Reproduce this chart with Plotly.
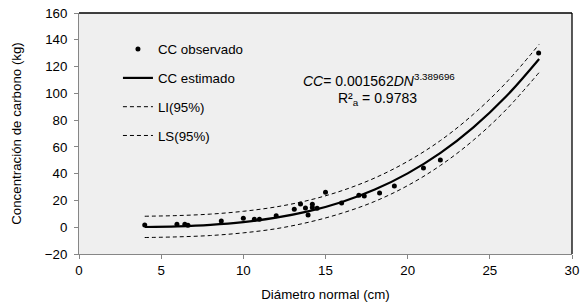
import plotly.graph_objects as go

# Observed data (diámetro normal cm, carbono kg)
dn_obs = [4.0, 5.96, 6.44, 6.63, 8.66, 10.0, 10.67, 10.98, 12.0, 13.1, 13.48, 13.78, 13.94,
          14.2, 14.2, 14.49, 15.0, 15.98, 17.03, 17.36, 18.29, 19.19, 20.96, 21.99, 27.97]
cc_obs = [1.7, 2.2, 2.2, 1.5, 4.7, 6.7, 6.0, 6.0, 8.5, 13.4, 17.4, 14.4, 9.2,
          17.2, 14.7, 14.2, 26.1, 18.1, 23.9, 23.4, 25.6, 30.8, 44.3, 50.2, 130.1]

# Fitted curve and 95% limits
dn_fit = [4, 6, 8, 10, 12, 14, 16, 18, 20, 22, 24, 26, 28]
cc_est = [0.17, 0.68, 1.80, 3.83, 7.11, 11.98, 18.85, 28.1, 40.2, 55.5, 74.6, 97.8, 125.7]
cc_ls = [8.2, 8.7, 9.8, 11.9, 15.2, 20.2, 27.3, 36.8, 49.2, 64.8, 84.4, 108.1, 136.6]
cc_li = [-7.7, -7.2, -6.2, -4.2, -1.1, 3.8, 10.5, 19.3, 31.1, 46.2, 65.0, 87.9, 115.6]

x_ticks = [0, 5, 10, 15, 20, 25, 30]
y_ticks = [-20, 0, 20, 40, 60, 80, 100, 120, 140, 160]

FONT = "Liberation Sans, Arial, sans-serif"
FS = 13.3

fig = go.Figure()
fig.add_trace(go.Scatter(x=dn_obs, y=cc_obs, mode="markers", name="CC observado",
                         marker=dict(color="black", size=5), legendgroup="a"))
fig.add_trace(go.Scatter(x=dn_fit, y=cc_est, mode="lines", name="CC estimado",
                         line=dict(color="black", width=2.2, shape="spline"), legendgroup="b"))
fig.add_trace(go.Scatter(x=dn_fit, y=cc_li, mode="lines", name="LI(95%)",
                         line=dict(color="black", width=1, dash="4px,3px", shape="spline"), legendgroup="c"))
fig.add_trace(go.Scatter(x=dn_fit, y=cc_ls, mode="lines", name="LS(95%)",
                         line=dict(color="black", width=1, dash="4px,3px", shape="spline"), legendgroup="d"))

fig.update_layout(
    width=588, height=303,
    margin=dict(l=79, r=16, t=13, b=49, autoexpand=False),
    paper_bgcolor="white",
    plot_bgcolor="#efefef",
    font=dict(family=FONT, size=FS, color="black"),
    showlegend=True,
    legend=dict(x=0.079, y=0.913, xanchor="left", yanchor="top",
                bgcolor="rgba(0,0,0,0)", traceorder="grouped", tracegroupgap=8.5,
                font=dict(size=FS), itemwidth=30),
    xaxis=dict(range=[0, 30], tickvals=x_ticks, showgrid=False, zeroline=False,
               showline=True, linecolor="#868686", linewidth=1,
               ticks="outside", ticklen=4, tickcolor="#868686",
               tickfont=dict(size=FS), automargin=False,
               title=dict(text="Diámetro normal (cm)", font=dict(size=FS), standoff=12)),
    yaxis=dict(range=[-20, 160], tickvals=y_ticks, showgrid=False, zeroline=False,
               showline=True, linecolor="#868686", linewidth=1,
               ticks="outside", ticklen=4, tickcolor="#868686", ticklabelstandoff=4,
               tickfont=dict(size=FS), automargin=False,
               title=dict(text="Concentración de carbono (kg)", font=dict(size=FS), standoff=20)),
)

# Top and right borders (black)
fig.add_shape(type="line", xref="paper", yref="paper", x0=0, x1=1, y0=1, y1=1,
              line=dict(color="black", width=1.3))
fig.add_shape(type="line", xref="paper", yref="paper", x0=1, x1=1, y0=0, y1=1,
              line=dict(color="black", width=1.3))

fig.add_annotation(x=18.23, y=110, xref="x", yref="y", showarrow=False,
                   text="<i>CC</i>= 0.001562<i>DN</i><sup>3.389696</sup>",
                   font=dict(size=14), xanchor="center", yanchor="middle")
fig.add_annotation(x=18.14, y=96, xref="x", yref="y", showarrow=False,
                   text="R²<sub>a</sub> = 0.9783",
                   font=dict(size=14), xanchor="center", yanchor="middle")

fig.write_html("out.html", config={"displayModeBar": False},
               post_script="document.body.style.margin='0';document.body.style.padding='0';document.body.style.overflow='hidden';")
